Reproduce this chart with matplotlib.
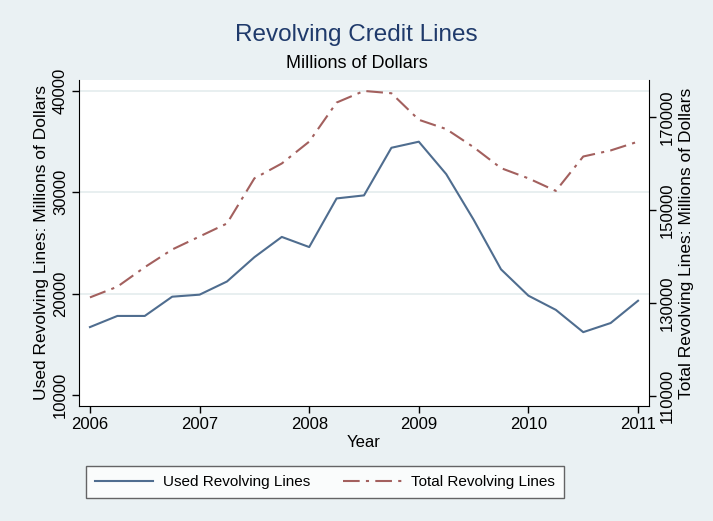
import matplotlib.pyplot as plt

plt.rcParams['font.family'] = ['Liberation Sans', 'DejaVu Sans']

# quarterly, 2006Q1 .. 2011Q1
years = [2006 + q * 0.25 for q in range(21)]
used = [16700, 17800, 17800, 19700, 19900, 21200, 23600, 25600, 24600, 29400,
        29700, 34400, 35000, 31800, 27300, 22400, 19800, 18400, 16200, 17100, 19300]
total = [131200, 133500, 137700, 141500, 144300, 147100, 156800, 160000, 164700, 173100,
         175600, 175100, 169400, 167400, 163500, 159000, 156800, 154100, 161500, 162800, 164700]

left_ticks = [10000, 20000, 30000, 40000]
right_ticks = [110000, 130000, 150000, 170000]
x_ticks = [2006, 2007, 2008, 2009, 2010, 2011]

bg = '#eaf1f3'
blue = '#4f6d8f'
red = '#a3605e'

fig = plt.figure(figsize=(7.13, 5.21), dpi=100, facecolor=bg)
ax = fig.add_axes([79 / 713, 1 - 406 / 521, 570 / 713, 326 / 521])
ax.set_facecolor('white')
ax2 = ax.twinx()

l1, = ax.plot(years, used, color=blue, lw=1.5, label='Used Revolving Lines')
l2, = ax2.plot(years, total, color=red, lw=1.5, dashes=(8, 3, 1.5, 3),
               label='Total Revolving Lines')

ax.set_xlim(2005.9, 2011.1)
ax.set_ylim(8910, 41090)
ax2.set_ylim(107850, 177950)

#grid on the left scale
for t in [20000, 30000, 40000]:
    ax.axhline(t, color='#e4ecee', lw=1.2, zorder=0)

ax.set_xticks(x_ticks)
ax.set_yticks(left_ticks)
ax2.set_yticks(right_ticks)
ax.set_yticklabels([str(t) for t in left_ticks], rotation=90, va='center')
ax2.set_yticklabels([str(t) for t in right_ticks], rotation=90, va='center')
ax.tick_params(axis='both', labelsize=12, length=5, width=1, direction='out', pad=3)
ax2.tick_params(axis='y', labelsize=12, length=5, width=1, direction='out', pad=3)

for a in (ax, ax2):
    a.spines['top'].set_visible(False)
ax.spines['right'].set_visible(False)
ax2.spines['left'].set_visible(False)
ax2.spines['bottom'].set_visible(False)

ax.set_xlabel('Year', fontsize=12, labelpad=2)
ax.set_ylabel('Used Revolving Lines: Millions of Dollars', fontsize=12.5, labelpad=3)
ax2.set_ylabel('Total Revolving Lines: Millions of Dollars', fontsize=12.5, labelpad=3)

fig.text(0.5, 1 - 35 / 521, 'Revolving Credit Lines', ha='center', va='center',
         fontsize=17.5, color='#1f3a6b')
fig.text(0.5, 1 - 63 / 521, 'Millions of Dollars', ha='center', va='center', fontsize=13)

leg = fig.legend(handles=[l1, l2], loc='center', ncol=2,
                 bbox_to_anchor=(325 / 713, 1 - 482 / 521), fontsize=11,
                 frameon=True, fancybox=False, handlelength=3.8, handletextpad=0.6,
                 columnspacing=2.2, borderpad=0.6, borderaxespad=0)
leg.get_frame().set_edgecolor('#404040')
leg.get_frame().set_linewidth(1)

fig.savefig('out.png', dpi=100, facecolor=bg)
